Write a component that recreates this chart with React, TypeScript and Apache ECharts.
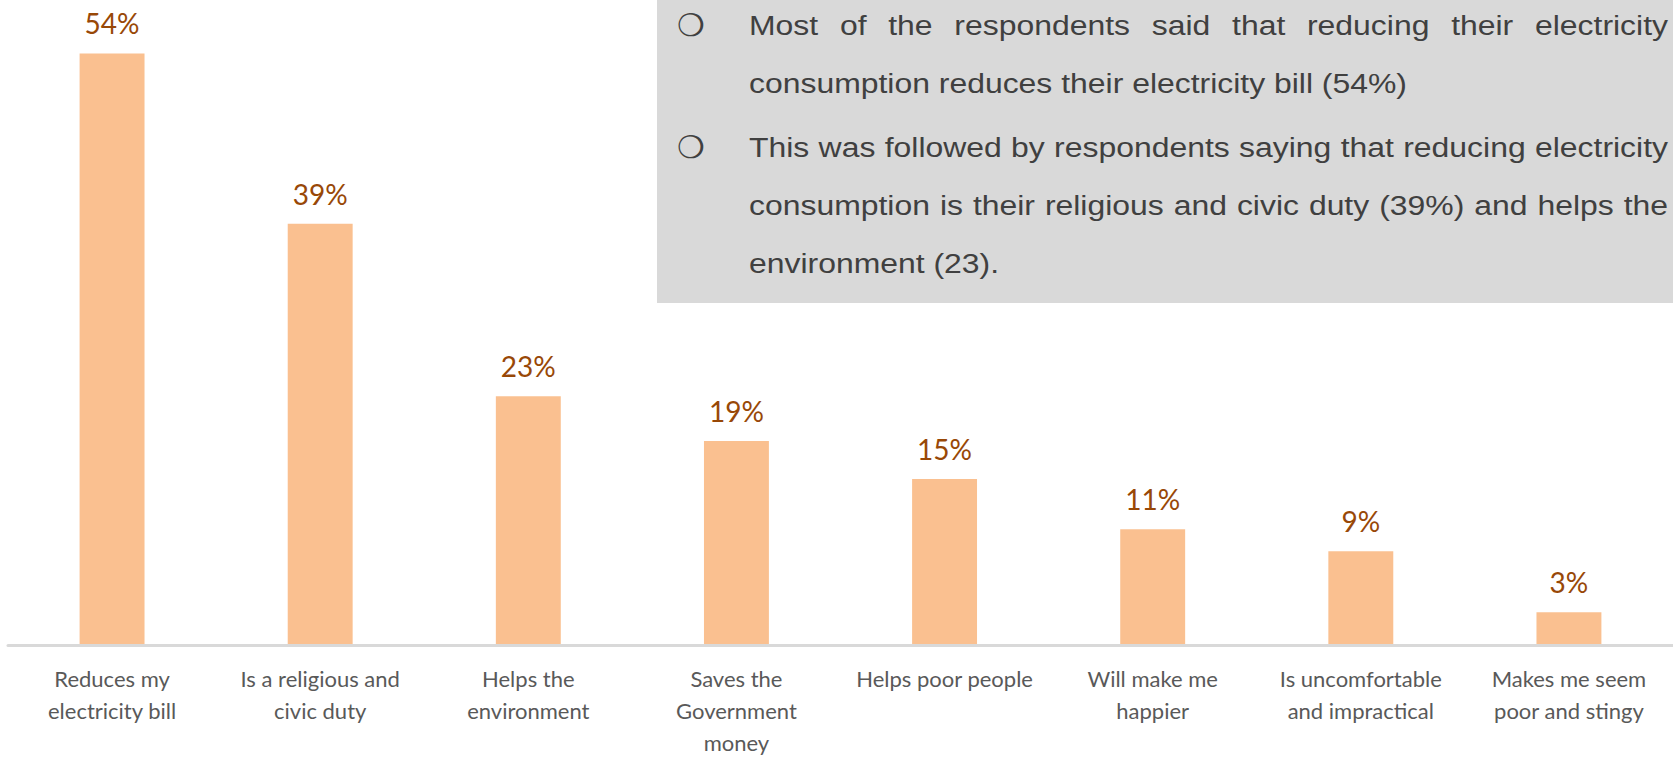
import React, { useEffect, useRef } from "react";
import * as echarts from "echarts";

// ---- data ----
const categories = [
  "Reduces my\nelectricity bill",
  "Is a religious and\ncivic duty",
  "Helps the\nenvironment",
  "Saves the\nGovernment\nmoney",
  "Helps poor people",
  "Will make me\nhappier",
  "Is uncomfortable\nand impractical",
  "Makes me seem\npoor and stingy",
];
const values = [54.2, 38.6, 22.8, 18.7, 15.2, 10.6, 8.6, 3.0];
const yMax = 58;
const bulletParagraphs = [
  [
    "Most of the respondents said that reducing their electricity",
    "consumption reduces their electricity bill (54%)",
  ],
  [
    "This was followed by respondents saying that reducing electricity",
    "consumption is their religious and civic duty (39%) and helps the",
    "environment (23).",
  ],
];
const bulletGlyph = "\u274D";

// ---- layout ----
const W = 1673;
const H = 758;
const BOX = { x: 657, y: 0, w: W - 657, h: 303 };
const TEXT_LEFT = 749;
const TEXT_RIGHT = 1668;
const BULLET_X = 691;
const FIRST_BASELINE = 35;
const LINE_STEP = 58;
const PARA_GAP = 6;
const TEXT_FONT_SIZE = 28;
const TEXT_SCALE_X = 1.14;
const TEXT_FONT = '"Liberation Sans", Arial, sans-serif';
const TEXT_COLOR = "#404040";

function buildGraphic(): any[] {
  const canvas = document.createElement("canvas");
  const ctx = canvas.getContext("2d")!;
  ctx.font = `${TEXT_FONT_SIZE}px ${TEXT_FONT}`;
  const els: any[] = [
    {
      type: "rect",
      shape: { x: BOX.x, y: BOX.y, width: BOX.w, height: BOX.h },
      style: { fill: "#D9D9D9" },
      z: 0,
    },
  ];
  const textEl = (x: number, y: number, text: string) => ({
    type: "text",
    x,
    y,
    scaleX: TEXT_SCALE_X,
    z: 2,
    style: {
      text,
      fontSize: TEXT_FONT_SIZE,
      fontFamily: TEXT_FONT,
      fill: TEXT_COLOR,
      align: "left",
      verticalAlign: "middle",
    },
  });
  let baseline = FIRST_BASELINE;
  bulletParagraphs.forEach((para, pi) => {
    if (pi > 0) baseline += PARA_GAP;
    para.forEach((line, li) => {
      const cy = baseline - 10;
      if (li === 0) {
        els.push({
          type: "text",
          x: BULLET_X,
          y: cy,
          z: 2,
          style: {
            text: bulletGlyph,
            fontSize: 31,
            fontFamily: '"DejaVu Sans"',
            fill: "#404040",
            align: "center",
            verticalAlign: "middle",
          },
        });
      }
      const isLast = li === para.length - 1;
      if (isLast) {
        els.push(textEl(TEXT_LEFT, cy, line));
      } else {
        const words = line.split(" ");
        const widths = words.map((w) => ctx.measureText(w).width * TEXT_SCALE_X);
        const total = widths.reduce((a, b) => a + b, 0);
        const gap = (TEXT_RIGHT - TEXT_LEFT - total) / (words.length - 1);
        let x = TEXT_LEFT;
        words.forEach((w, wi) => {
          els.push(textEl(x, cy, w));
          x += widths[wi] + gap;
        });
      }
      baseline += LINE_STEP;
    });
  });
  return els;
}

export default function App() {
  const ref = useRef<HTMLDivElement>(null);
  useEffect(() => {
    if (!ref.current) return;
    const chart = echarts.init(ref.current, undefined, { renderer: "svg" });
    chart.setOption({
      animation: false,
      backgroundColor: "#ffffff",
      grid: {
        left: 8,
        right: 0,
        top: 12,
        bottom: 113,
        containLabel: false,
        outerBoundsMode: "none",
      },
      xAxis: {
        type: "category",
        data: categories,
        z: 3,
        axisLine: { show: true, lineStyle: { color: "#D9D9D9", width: 3 } },
        axisTick: { show: false },
        axisLabel: {
          interval: 0,
          margin: 17,
          color: "#595959",
          fontSize: 22,
          lineHeight: 32,
          fontFamily: "Lato, sans-serif",
        },
      },
      yAxis: {
        type: "value",
        min: 0,
        max: yMax,
        show: false,
        splitLine: { show: false },
      },
      series: [
        {
          type: "bar",
          data: values,
          barWidth: "31.2%",
          itemStyle: { color: "#FAC090" },
          label: {
            show: true,
            position: "top",
            distance: 16,
            color: "#984807",
            fontSize: 28,
            fontFamily: "Lato, sans-serif",
            formatter: (p: any) => Math.round(p.value) + "%",
          },
        },
      ],
      graphic: buildGraphic(),
    });
    return () => chart.dispose();
  }, []);
  return (
    <div
      ref={ref}
      style={{ position: "fixed", left: 0, top: 0, width: W, height: H, background: "#fff" }}
    />
  );
}
